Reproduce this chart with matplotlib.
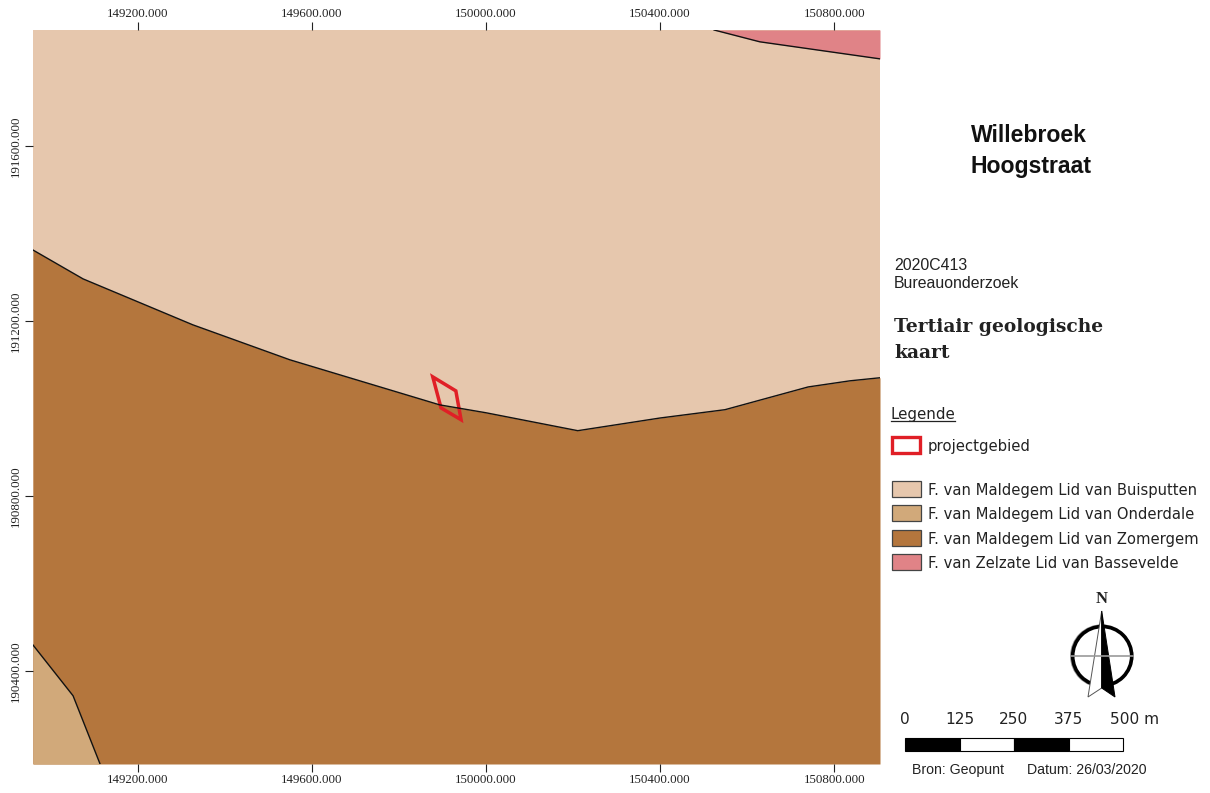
"""
Tertiair geologische kaart, Willebroek Hoogstraat.
Map frame in Lambert coordinates, side panel drawn in figure pixels.
"""
import numpy as np
import matplotlib.pyplot as plt
from matplotlib.patches import Circle, Polygon, Rectangle

# Map extent (m)
X_MIN, X_MAX = 148960, 150905
Y_MIN, Y_MAX = 190187, 191865
x_ticks = [149200, 149600, 150000, 150400, 150800]
y_ticks = [190400, 190800, 191200, 191600]

# Boundary Buisputten / Zomergem
zom_x = [148960, 149075, 149327, 149550, 149894, 150000, 150211, 150400, 150549, 150740, 150836, 150905]
zom_y = [191362, 191296, 191191, 191111, 191008, 190990, 190949, 190978, 190997, 191049, 191063, 191070]
# Boundary Onderdale / Zomergem
ond_x = [148960, 149052, 149114]
ond_y = [190459, 190343, 190187]
# Boundary Bassevelde / Buisputten
bas_x = [150524, 150629, 150905]
bas_y = [191865, 191838, 191799]
# Project area
proj_x = [149878, 149931, 149943, 149897]
proj_y = [191072, 191040, 190974, 191001]

legend_labels = ["F. van Maldegem Lid van Buisputten", "F. van Maldegem Lid van Onderdale",
                 "F. van Maldegem Lid van Zomergem", "F. van Zelzate Lid van Bassevelde"]
legend_colors = ["#E6C7AD", "#D1A97A", "#B4763D", "#E08387"]
scale_vals = [0, 125, 250, 375, 500]

RED = "#E01F26"
W, H = 1210, 793
SERIF = "Liberation Serif"
SANS = "Liberation Sans"
LEG = "DejaVu Sans"

fig = plt.figure(figsize=(W / 100, H / 100), dpi=100)
ax = fig.add_axes([33 / W, 1 - 764 / H, (880 - 33) / W, (764 - 30) / H])
ax.set_xlim(X_MIN, X_MAX)
ax.set_ylim(Y_MIN, Y_MAX)
ax.set_facecolor(legend_colors[0])
for s in ax.spines.values():
    s.set_visible(False)

# ── Geological units ──
ax.fill_between(zom_x, zom_y, Y_MIN, color=legend_colors[2], lw=0)
ax.fill_between(ond_x, ond_y, Y_MIN, color=legend_colors[1], lw=0)
ax.fill_between(bas_x, bas_y, Y_MAX, color=legend_colors[3], lw=0)
for bx, by in [(zom_x, zom_y), (ond_x, ond_y), (bas_x, bas_y)]:
    ax.plot(bx, by, color="#111111", lw=1.0)
ax.add_patch(Polygon(np.column_stack([proj_x, proj_y]), closed=True, fill=False,
                     edgecolor=RED, lw=2.5, joinstyle="miter"))

# ── Grid annotations ──
tick_fmt = "{:.3f}"
ax.set_xticks(x_ticks)
ax.set_xticklabels([tick_fmt.format(v) for v in x_ticks], fontsize=9.3, family=SERIF)
ax.set_yticks(y_ticks)
ax.set_yticklabels([tick_fmt.format(v) for v in y_ticks], fontsize=9.3, family=SERIF,
                   rotation=90, va="center")
ax.tick_params(top=True, labeltop=True, bottom=True, labelbottom=True, left=True,
               length=5.8, width=0.8, color="#222222", labelcolor="#222222")
ax.tick_params(axis="x", pad=1.5)
ax.tick_params(axis="y", pad=2.5)

# ── Side panel, coordinates in figure pixels ──
pan = fig.add_axes([0, 0, 1, 1], facecolor="none")
pan.set_xlim(0, W)
pan.set_ylim(H, 0)
pan.axis("off")

pan.text(971, 135, "Willebroek", family=SANS, weight="bold", fontsize=16.6, va="center", color="#111111")
pan.text(971, 166, "Hoogstraat", family=SANS, weight="bold", fontsize=16.6, va="center", color="#111111")
pan.text(894, 266, "2020C413", family=SANS, fontsize=11.4, va="center", color="#222222")
pan.text(894, 284, "Bureauonderzoek", family=SANS, fontsize=11.4, va="center", color="#222222")
pan.text(894, 327, "Tertiair geologische", family="DejaVu Serif", weight="bold", fontsize=13.4,
         va="center", color="#222222")
pan.text(894, 353, "kaart", family="DejaVu Serif", weight="bold", fontsize=13.4, va="center", color="#222222")

pan.text(891, 414, "Legende", family=LEG, fontsize=10.8, va="center", color="#222222")
pan.plot([891, 955], [421, 421], color="#222222", lw=0.9)

pan.add_patch(Rectangle((892, 437), 28, 16, fill=False, edgecolor=RED, lw=2.4))
pan.text(928, 446, "projectgebied", family=LEG, fontsize=10.7, va="center", color="#222222")
for i, (lab, col) in enumerate(zip(legend_labels, legend_colors)):
    top = 481 + i * 24.4
    pan.add_patch(Rectangle((891.5, top), 29, 16, facecolor=col, edgecolor="#444444", lw=0.9))
    pan.text(928, top + 9.5, lab, family=LEG, fontsize=10.65, va="center", color="#222222")

# North arrow
cx, cy = 1101.7, 656
pan.add_patch(Circle((cx, cy), 31, fill=False, edgecolor="#999999", lw=1.0))
pan.add_patch(Circle((cx + 0.5, cy), 29.5, fill=False, edgecolor="black", lw=2.6))
pan.plot([cx - 31, cx + 31], [cy, cy], color="#999999", lw=1.2)
pan.add_patch(Polygon([(cx, 611), (cx, 688), (1088, 697)], closed=True,
                      facecolor="white", edgecolor="#555555", lw=0.7))
pan.add_patch(Polygon([(cx, 611), (cx, 688), (1115, 697)], closed=True,
                      facecolor="black", edgecolor="black", lw=0.7))
pan.text(cx, 599, "N", family=SERIF, weight="bold", fontsize=12, ha="center", va="center", color="#222222")

# Scale bar, 0.436 px per metre
for i, (a, b) in enumerate(zip(scale_vals[:-1], scale_vals[1:])):
    x0 = 905 + a * 0.436
    pan.add_patch(Rectangle((x0, 738), (b - a) * 0.436, 13, facecolor="black" if i % 2 == 0 else "white",
                            edgecolor="black", lw=0.8))
for v in scale_vals:
    xp = 905 + v * 0.436
    if v == scale_vals[-1]:
        pan.text(xp - 13, 720, f"{v} m", family=LEG, fontsize=11.1, ha="left", va="center", color="#222222")
    else:
        pan.text(xp, 720, str(v), family=LEG, fontsize=11.1, ha="center", va="center", color="#222222")

pan.text(912, 770, "Bron: Geopunt", family=SANS, fontsize=10.2, va="center", color="#222222")
pan.text(1027, 770, "Datum: 26/03/2020", family=SANS, fontsize=10.2, va="center", color="#222222")

plt.savefig("out.png", dpi=100)
plt.close()
